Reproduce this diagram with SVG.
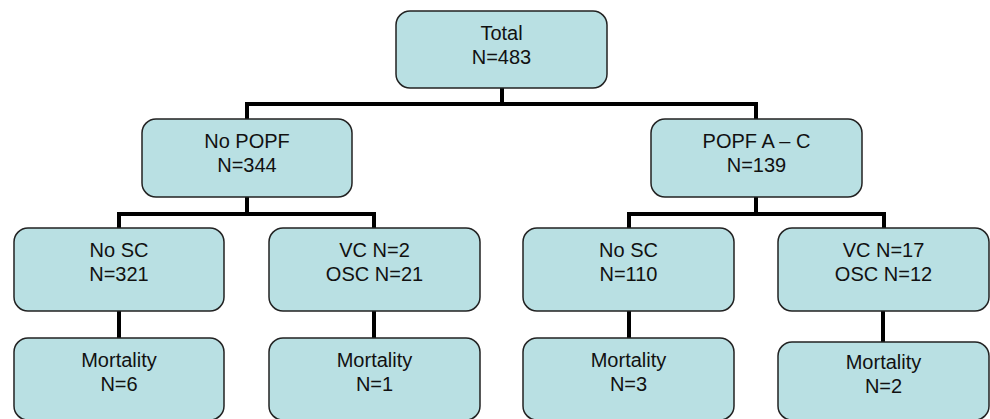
<svg xmlns="http://www.w3.org/2000/svg" width="990" height="419" viewBox="0 0 990 419">
<style>
.box{fill:#B9E0E3;stroke:#222;stroke-width:1.5}
.t{font-family:"Liberation Sans",Arial,sans-serif;font-size:20px;fill:#111;text-anchor:middle}
.c{fill:none;stroke:#000;stroke-width:4}
</style>
<rect width="990" height="419" fill="#fff"/>
<g id="connectors">
<path class="c" d="M502 88V104M247 104H756M247 102V119M756 102V119"/>
<path class="c" d="M247 197V214M119 214H374M119 212V228M374 212V228"/>
<path class="c" d="M756 197V214M629 214H884M629 212V228M884 212V228"/>
<path class="c" d="M119 311V338M374 311V338M629 311V338M883 311V342"/>
</g>
<g id="total"><rect class="box" x="396" y="11" width="211" height="77" rx="14"/><text class="t" x="501.5" y="40">Total</text><text class="t" x="501.5" y="64">N=483</text></g>
<g id="nopopf"><rect class="box" x="142" y="119" width="210" height="78" rx="14"/><text class="t" x="247" y="148">No POPF</text><text class="t" x="247" y="172">N=344</text></g>
<g id="popf"><rect class="box" x="651" y="119" width="211" height="78" rx="14"/><text class="t" x="756.5" y="148">POPF A – C</text><text class="t" x="756.5" y="172">N=139</text></g>
<g id="nosc1"><rect class="box" x="14" y="228" width="210" height="83" rx="14"/><text class="t" x="119" y="257">No SC</text><text class="t" x="119" y="281">N=321</text></g>
<g id="vc1"><rect class="box" x="269" y="228" width="211" height="83" rx="14"/><text class="t" x="374.5" y="257">VC N=2</text><text class="t" x="374.5" y="281">OSC N=21</text></g>
<g id="nosc2"><rect class="box" x="523" y="228" width="211" height="83" rx="14"/><text class="t" x="628.5" y="257">No SC</text><text class="t" x="628.5" y="281">N=110</text></g>
<g id="vc2"><rect class="box" x="778" y="228" width="211" height="83" rx="14"/><text class="t" x="883.5" y="257">VC N=17</text><text class="t" x="883.5" y="281">OSC N=12</text></g>
<g id="mort1"><rect class="box" x="14" y="338" width="210" height="82" rx="14"/><text class="t" x="119" y="367">Mortality</text><text class="t" x="119" y="391">N=6</text></g>
<g id="mort2"><rect class="box" x="269" y="338" width="211" height="82" rx="14"/><text class="t" x="374.5" y="367">Mortality</text><text class="t" x="374.5" y="391">N=1</text></g>
<g id="mort3"><rect class="box" x="523" y="338" width="211" height="82" rx="14"/><text class="t" x="628.5" y="367">Mortality</text><text class="t" x="628.5" y="391">N=3</text></g>
<g id="mort4"><rect class="box" x="778" y="342" width="211" height="78" rx="14"/><text class="t" x="883.5" y="369">Mortality</text><text class="t" x="883.5" y="393">N=2</text></g>
</svg>
